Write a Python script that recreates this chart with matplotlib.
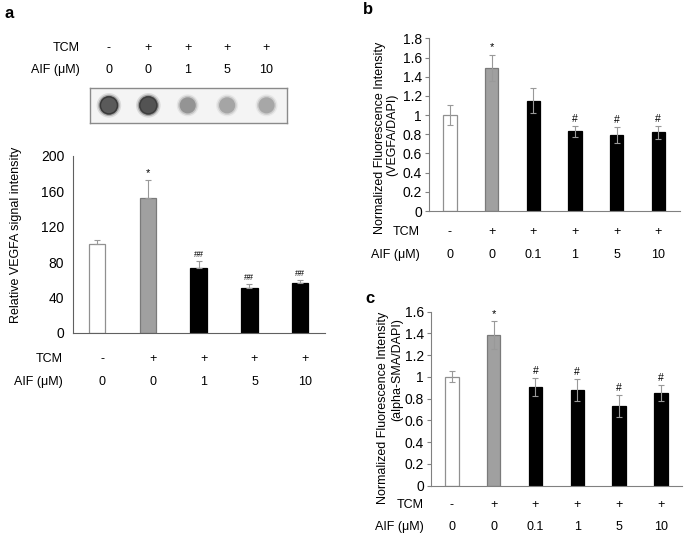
import numpy as np
import matplotlib
matplotlib.use('Agg')
import matplotlib.pyplot as plt

plt.rcParams['font.family'] = ['Liberation Sans', 'DejaVu Sans']

# panel a - dot blot + VEGFA signal
tcm_a = ['-', '+', '+', '+', '+']
aif_a = ['0', '0', '1', '5', '10']
vegfa_a = [100, 153, 73, 51, 56]
vegfa_a_err = [5, 20, 8, 4, 3.5]
sig_a = ['', '*', '##', '##', '##']
blot_gray = [0.30, 0.27, 0.55, 0.62, 0.63]

# panel b - VEGFA/DAPI
tcm_b = ['-', '+', '+', '+', '+', '+']
aif_b = ['0', '0', '0.1', '1', '5', '10']
vegfa_b = [1.0, 1.49, 1.15, 0.83, 0.79, 0.82]
vegfa_b_err = [0.10, 0.14, 0.13, 0.055, 0.085, 0.07]
sig_b = ['', '*', '', '#', '#', '#']

# panel c - alpha-SMA/DAPI
tcm_c = ['-', '+', '+', '+', '+', '+']
aif_c = ['0', '0', '0.1', '1', '5', '10']
sma_c = [1.0, 1.385, 0.905, 0.88, 0.735, 0.85]
sma_c_err = [0.05, 0.125, 0.08, 0.1, 0.1, 0.075]
sig_c = ['', '*', '#', '#', '#', '#']

FS = 9
TFS = 10
face = ['white', '#a0a0a0'] + ['black'] * 4
edge = ['#909090', '#7a7a7a'] + ['black'] * 4


def bar_panel(ax, vals, errs, sig, ylim, yticks, ticklab, upper_only, sigsize):
    n = len(vals)
    x = np.arange(n)
    if upper_only:
        yerr = [np.zeros(n), errs]
    else:
        yerr = errs
    ax.bar(x, vals, width=0.32, color=face[:n], edgecolor=edge[:n], linewidth=0.9, zorder=2)
    ax.errorbar(x, vals, yerr=yerr, fmt='none', ecolor='#999999', elinewidth=0.8,
                capsize=2, capthick=0.8, zorder=3)
    for i in range(n):
        if sig[i]:
            fs = 8 if sig[i] == '*' else sigsize
            ax.annotate(sig[i], (x[i], vals[i] + errs[i]), xytext=(0, 1.5),
                        textcoords='offset points', ha='center', va='bottom',
                        fontsize=fs)
    ax.set_ylim(ylim)
    ax.set_xlim(-0.5, n - 0.5)
    ax.set_yticks(yticks)
    ax.set_yticklabels(ticklab, fontsize=TFS)
    ax.set_xticks([])
    for s in ['top', 'right']:
        ax.spines[s].set_visible(False)
    ax.spines['left'].set_color('#808080')
    ax.spines['bottom'].set_color('#808080')
    ax.spines['left'].set_linewidth(0.8)
    ax.spines['bottom'].set_linewidth(0.8)
    ax.tick_params(axis='y', color='#808080', length=3, width=0.8, pad=2)
    return x


def cond_rows(ax, x, tcm, aif, y1, y2, xl):
    tr = ax.get_xaxis_transform()
    for i in range(len(x)):
        ax.text(x[i], y1, tcm[i], transform=tr, ha='center', va='center', fontsize=FS)
        ax.text(x[i], y2, aif[i], transform=tr, ha='center', va='center', fontsize=FS)
    ax.text(xl, y1, 'TCM', transform=ax.transAxes, ha='right', va='center', fontsize=FS)
    ax.text(xl, y2, 'AIF (\u03bcM)', transform=ax.transAxes, ha='right', va='center', fontsize=FS)


fig = plt.figure(figsize=(6.85, 5.36), dpi=100)

# ---- panel a blot
ax_blot = fig.add_axes([0.1314, 0.7711, 0.2876, 0.0647])
xb = np.arange(len(blot_gray))
cols = [(g, g, g) for g in blot_gray]
for k, (sz, al) in enumerate([(250, 0.15), (190, 0.35), (135, 0.85)]):
    ax_blot.scatter(xb, np.zeros(len(xb)), s=[sz * (1.25 if g < 0.4 else 1.0) for g in blot_gray],
                    c=cols, alpha=al, edgecolors='none', zorder=2 + k)
# darker rim on the strong spots
ax_blot.scatter(xb[:2], np.zeros(2), s=155, facecolors='none',
                edgecolors=['#2a2a2a', '#333333'], linewidths=1.2, alpha=0.7, zorder=6)
ax_blot.set_xlim(-0.48, 4.52)
ax_blot.set_ylim(-1, 1)
ax_blot.set_facecolor('#f4f4f4')
ax_blot.set_xticks([])
ax_blot.set_yticks([])
for s in ax_blot.spines.values():
    s.set_color('#8a8a8a')
    s.set_linewidth(1.0)
cond_rows(ax_blot, xb, tcm_a, aif_a, 2.153, 1.519, -0.051)

# ---- panel a bars
ax_a = fig.add_axes([0.1061, 0.3793, 0.3684, 0.3297])
xa = bar_panel(ax_a, vegfa_a, vegfa_a_err, sig_a, (0, 200), [0, 40, 80, 120, 160, 200],
               ['0', '40', '80', '120', '160', '200'], True, 6.5)
ax_a.set_xlim(-0.48, 4.49)
ax_a.tick_params(axis='y', length=0, pad=6)
ax_a.spines['left'].set_color('#606060')
ax_a.spines['bottom'].set_color('#606060')
cond_rows(ax_a, xa + 0.1, tcm_a, aif_a, -0.149, -0.277, -0.038)
ax_a.text(-0.202, 0.555, 'Relative VEGFA signal intensity', transform=ax_a.transAxes,
          rotation=90, ha='right', va='center', fontsize=FS)

# ---- panel b
ax_b = fig.add_axes([0.6263, 0.6063, 0.3664, 0.3222])
xbb = bar_panel(ax_b, vegfa_b, vegfa_b_err, sig_b, (0, 1.8), np.arange(0, 1.81, 0.2),
                ['0', '0.2', '0.4', '0.6', '0.8', '1', '1.2', '1.4', '1.6', '1.8'], False, 7.5)
ax_b.set_xlim(-0.5, 5.52)
cond_rows(ax_b, xbb, tcm_b, aif_b, -0.123, -0.255, -0.036)
ax_b.text(-0.195, 0.426, 'Normalized Fluorescence Intensity', transform=ax_b.transAxes,
          rotation=90, ha='center', va='center', fontsize=FS)
ax_b.text(-0.145, 0.44, '(VEGFA/DAPI)', transform=ax_b.transAxes,
          rotation=90, ha='center', va='center', fontsize=FS)

# ---- panel c
ax_c = fig.add_axes([0.6292, 0.0942, 0.366, 0.3243])
xc = bar_panel(ax_c, sma_c, sma_c_err, sig_c, (0, 1.6), np.arange(0, 1.61, 0.2),
               ['0', '0.2', '0.4', '0.6', '0.8', '1', '1.2', '1.4', '1.6'], False, 7.5)
ax_c.set_xlim(-0.5, 5.5)
cond_rows(ax_c, xc, tcm_c, aif_c, -0.112, -0.237, -0.028)
ax_c.text(-0.192, 0.445, 'Normalized Fluorescence Intensity', transform=ax_c.transAxes,
          rotation=90, ha='center', va='center', fontsize=FS)
ax_c.text(-0.136, 0.665, '(alpha-SMA/DAPI)', transform=ax_c.transAxes,
          rotation=90, ha='center', va='center', fontsize=FS)

# panel letters
fig.text(0.006, 0.975, 'a', fontsize=12, fontweight='bold', ha='left', va='center')
fig.text(0.530, 0.983, 'b', fontsize=12, fontweight='bold', ha='left', va='center')
fig.text(0.534, 0.443, 'c', fontsize=12, fontweight='bold', ha='left', va='center')

fig.savefig('out.png', dpi=100)
